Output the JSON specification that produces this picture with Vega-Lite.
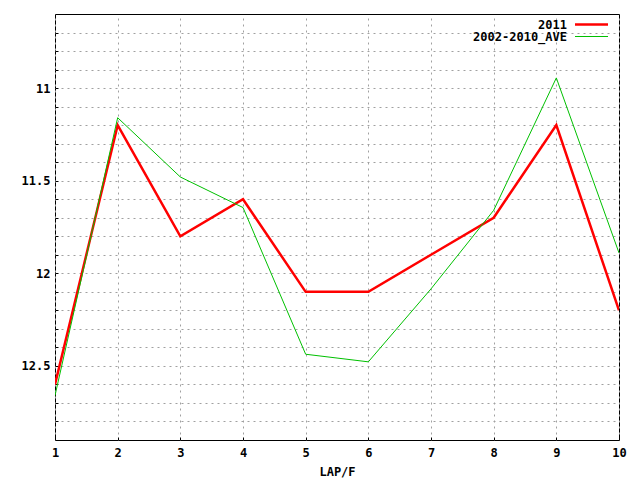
{
  "$schema": "https://vega.github.io/schema/vega-lite/v6.json",
  "width": 564,
  "height": 426,
  "autosize": {"type": "none"},
  "padding": {"left": 55, "top": 14, "right": 21, "bottom": 40},
  "background": "white",
  "data": {
    "values": [
      {"lap": 1, "series": "2011", "time": 12.6},
      {"lap": 2, "series": "2011", "time": 11.2},
      {"lap": 3, "series": "2011", "time": 11.8},
      {"lap": 4, "series": "2011", "time": 11.6},
      {"lap": 5, "series": "2011", "time": 12.1},
      {"lap": 6, "series": "2011", "time": 12.1},
      {"lap": 7, "series": "2011", "time": 11.9},
      {"lap": 8, "series": "2011", "time": 11.7},
      {"lap": 9, "series": "2011", "time": 11.2},
      {"lap": 10, "series": "2011", "time": 12.2},
      {"lap": 1, "series": "2002-2010_AVE", "time": 12.66},
      {"lap": 2, "series": "2002-2010_AVE", "time": 11.16},
      {"lap": 3, "series": "2002-2010_AVE", "time": 11.48},
      {"lap": 4, "series": "2002-2010_AVE", "time": 11.645},
      {"lap": 5, "series": "2002-2010_AVE", "time": 12.437},
      {"lap": 6, "series": "2002-2010_AVE", "time": 12.478},
      {"lap": 7, "series": "2002-2010_AVE", "time": 12.084},
      {"lap": 8, "series": "2002-2010_AVE", "time": 11.66},
      {"lap": 9, "series": "2002-2010_AVE", "time": 10.945},
      {"lap": 10, "series": "2002-2010_AVE", "time": 11.89}
    ]
  },
  "mark": {"type": "line", "strokeJoin": "miter", "clip": true},
  "encoding": {
    "x": {
      "field": "lap",
      "type": "quantitative",
      "scale": {"domain": [1, 10], "nice": false, "zero": false},
      "axis": {
        "title": "LAP/F",
        "values": [1, 2, 3, 4, 5, 6, 7, 8, 9, 10],
        "format": "d",
        "titlePadding": 8
      }
    },
    "y": {
      "field": "time",
      "type": "quantitative",
      "scale": {"domain": [10.6, 12.9], "nice": false, "zero": false, "reverse": true},
      "axis": {
        "title": null,
        "values": [10.7, 10.8, 10.9, 11, 11.1, 11.2, 11.3, 11.4, 11.5, 11.6, 11.7, 11.8, 11.9, 12, 12.1, 12.2, 12.3, 12.4, 12.5, 12.6, 12.7, 12.8],
        "format": "~g",
        "labelExpr": "abs(datum.value * 2 - round(datum.value * 2)) < 0.01 ? datum.label : ''",
        "labelPadding": 8
      }
    },
    "color": {
      "field": "series",
      "type": "nominal",
      "scale": {"domain": ["2011", "2002-2010_AVE"], "range": ["#ff0000", "#00c000"]},
      "legend": {
        "title": null,
        "orient": "none",
        "legendX": 529.5,
        "legendY": 3.5,
        "symbolType": "M-3,0H3",
        "symbolSize": 121,
        "symbolStrokeWidth": 2,
        "labelAlign": "right",
        "labelOffset": -31.5,
        "rowPadding": 0,
        "encode": {
          "symbols": {
            "update": {
              "strokeWidth": {"signal": "datum.value == '2011' ? 2.5 : 1"}
            }
          }
        }
      }
    },
    "strokeWidth": {
      "field": "series",
      "type": "nominal",
      "scale": {"domain": ["2011", "2002-2010_AVE"], "range": [2.5, 1]},
      "legend": null
    }
  },
  "config": {
    "font": "DejaVu Sans Mono",
    "view": {"stroke": "black", "strokeWidth": 1},
    "axis": {
      "domain": false,
      "grid": true,
      "gridColor": "#a0a0a0",
      "gridDash": [2, 4],
      "gridOpacity": 1,
      "gridWidth": 1,
      "ticks": true,
      "tickSize": -3,
      "tickColor": "black",
      "labelFont": "DejaVu Sans Mono",
      "labelFontSize": 12,
      "labelFontWeight": "bold",
      "labelColor": "black",
      "titleFont": "DejaVu Sans Mono",
      "titleFontSize": 12,
      "titleFontWeight": "bold",
      "titleColor": "black"
    },
    "axisX": {"labelPadding": 10, "labelFlush": false},
    "axisY": {"labelPadding": 11},
    "legend": {
      "labelFont": "DejaVu Sans Mono",
      "labelFontSize": 12,
      "labelFontWeight": "bold",
      "labelColor": "black"
    }
  }
}
